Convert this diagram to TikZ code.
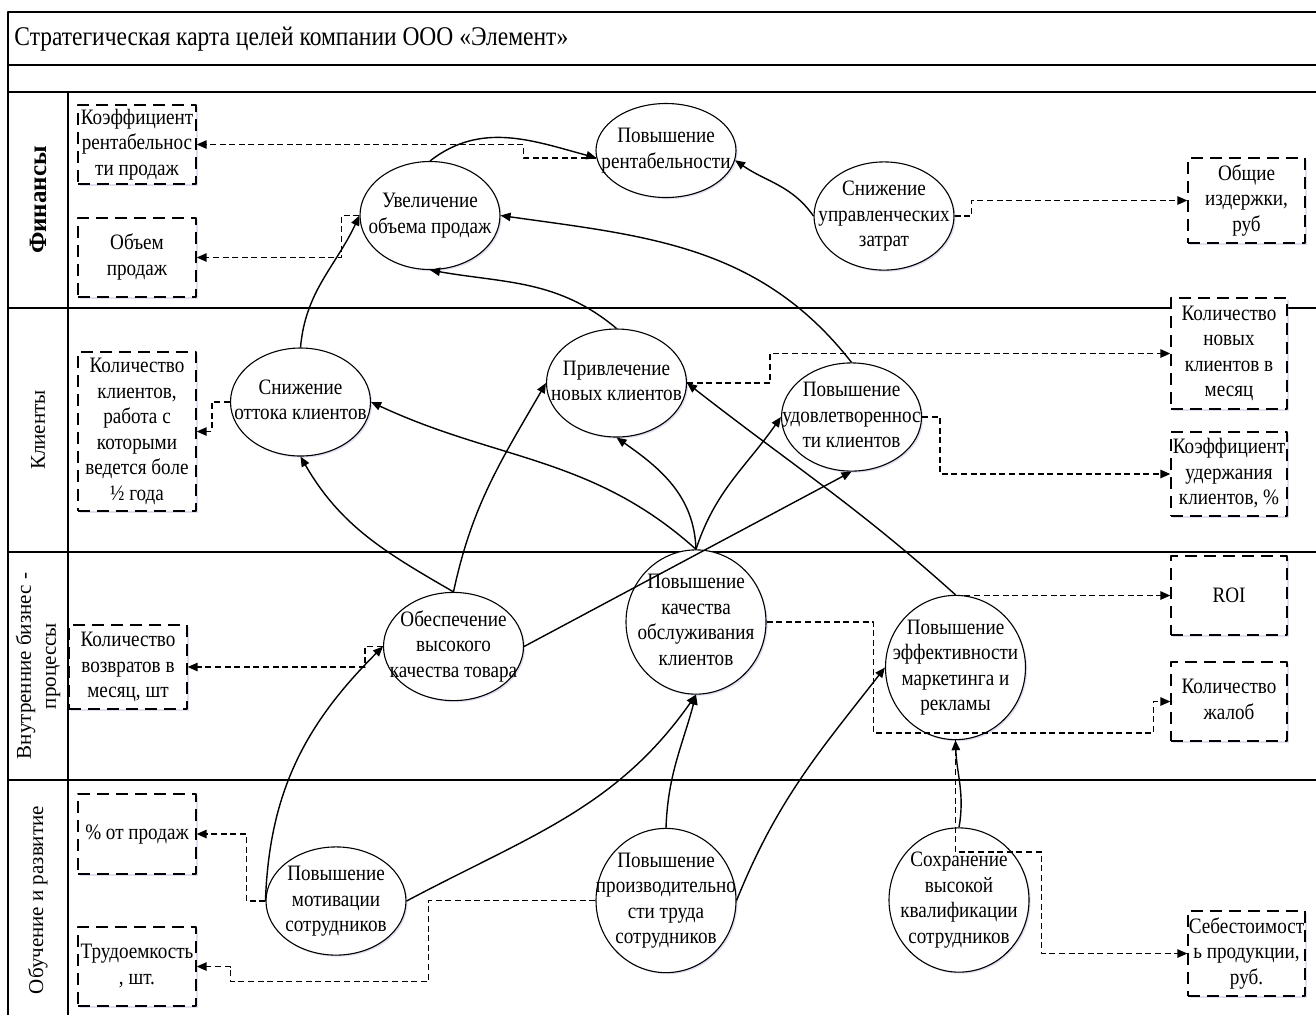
\documentclass[tikz,border=0pt]{standalone}
\usepackage{fontspec}
\setmainfont{Liberation Serif}[FakeStretch=0.87]
\newfontfamily\lanefont{Liberation Serif}
\usetikzlibrary{arrows.meta,shapes.geometric,shadows}
\newcommand{\lines}[1]{\makebox[0pt]{\begin{tabular}{@{}c@{}}#1\end{tabular}}}

\begin{document}
\begin{tikzpicture}[x=0.5pt,y=-0.5pt,>={Triangle[length=5pt,width=4.2pt]},line join=round,
	font=\fontsize{11}{12.75}\selectfont,
	lane/.style={line width=0.8pt},
	sh/.style={drop shadow={shadow xshift=0.8pt,shadow yshift=-0.8pt,opacity=0.3,fill=blue!40!gray!60}},
	goal/.style={ellipse,draw,line width=0.55pt,fill=white,sh,inner sep=0pt,minimum width=70pt,minimum height=54pt},
	kpi/.style={rectangle,draw,line width=0.65pt,dash pattern=on 6pt off 3.5pt,fill=white,sh,inner sep=0pt,minimum width=59pt,minimum height=39.5pt},
	lanelabel/.style={rotate=90,align=center,font=\lanefont\fontsize{10.5}{12.5}\selectfont},
	link/.style={->,line width=0.7pt},
	meas/.style={->,line width=0.75pt,dash pattern=on 3pt off 1.8pt}]
	\useasboundingbox (0,0) rectangle (1316,1014);
	\clip (0,0) rectangle (1316,1014);
	% frame and lanes
	\draw[lane] (8,1030) |- (1330,12);
	\foreach \y in {65,92,308,552,780}
		\draw[lane] (8,\y) -- (1330,\y);
	\draw[lane] (68,92) -- (68,1030);
	\node[anchor=west,inner sep=0pt,font=\fontsize{13.5}{15}\selectfont] (title) at (14,39) {Стратегическая карта целей компании ООО «Элемент»};
	\node[lanelabel,font=\lanefont\bfseries\fontsize{12.5}{14}\selectfont] (l1) at (38,200) {Финансы};
	\node[lanelabel] (l2) at (38,430) {Клиенты};
	\node[lanelabel] (l3) at (38,666) {Внутренние бизнес -\\процессы};
	\node[lanelabel] (l4) at (38,900) {Обучение и развитие};
	% goals
	\node[goal,minimum height=47pt] (e1) at (666,150.5) {\lines{Повышение\\рентабельности}};
	\node[goal] (e2) at (430,215.5) {\lines{Увеличение\\объема продаж}};
	\node[goal] (e3) at (884,216) {\lines{Снижение\\управленческих\\затрат}};
	\node[goal] (e4) at (300.5,402) {\lines{Снижение\\оттока клиентов}};
	\node[goal] (e5) at (616.5,383) {\lines{Привлечение\\новых клиентов}};
	\node[goal] (e6) at (851.5,417) {\lines{Повышение\\удовлетвореннос\\ти клиентов}};
	\node[goal] (e7) at (453.5,646.5) {\lines{Обеспечение\\высокого\\качества товара}};
	\node[goal] (e8) at (696,622) {\lines{Повышение\\качества\\обслуживания\\клиентов}};
	\node[goal] (e9) at (955.5,667.5) {\lines{Повышение\\эффективности\\маркетинга и\\рекламы}};
	\node[goal] (e10) at (336,901) {\lines{Повышение\\мотивации\\сотрудников}};
	\node[goal] (e11) at (666,900.5) {\lines{Повышение\\производительно\\сти труда\\сотрудников}};
	\node[goal] (e12) at (959,900) {\lines{Сохранение\\высокой\\квалификации\\сотрудников}};
	% indicators
	\node[kpi] (b1) at (137,144.5) {\lines{Коэффициент\\рентабельнос\\ти продаж}};
	\node[kpi] (b2) at (137,257.5) {\lines{Объем\\продаж}};
	\node[kpi,minimum height=79.5pt] (b3) at (137,431.5) {\lines{Количество\\клиентов,\\работа с\\которыми\\ведется боле\\½ года}};
	\node[kpi,minimum height=42pt] (b4) at (128,667) {\lines{Количество\\возвратов в\\месяц, шт}};
	\node[kpi,minimum height=40pt] (b5) at (137,834) {\lines{\% от продаж}};
	\node[kpi] (b6) at (137,966.5) {\lines{Трудоемкость\\, шт.}};
	\node[kpi,minimum width=58.5pt,minimum height=42.5pt] (r1) at (1246.5,200.5) {\lines{Общие\\издержки,\\руб}};
	\node[kpi,minimum width=58pt,minimum height=55.5pt] (r2) at (1229,353.5) {\lines{Количество\\новых\\клиентов в\\месяц}};
	\node[kpi,minimum width=58pt,minimum height=42pt] (r3) at (1229,474) {\lines{Коэффициент\\удержания\\клиентов, \%}};
	\node[kpi,minimum width=58pt] (r4) at (1229,595.5) {ROI};
	\node[kpi,minimum width=58pt] (r5) at (1229,701.5) {\lines{Количество\\жалоб}};
	\node[kpi,minimum width=58.5pt,minimum height=42.5pt] (r6) at (1246.5,953.5) {\lines{Себестоимост\\ь продукции,\\руб.}};
	% links between goals
	\draw[link] (e2.north) to[out=38,in=165] (e1.186);
	\draw[link] (e3.west) to[out=125,in=-35] (e1.-8);
	\draw[link] (e5.north) to[out=140,in=-10] (e2.south);
	\draw[link] (e6.north) to[out=128,in=-8] (e2.east);
	\draw[link] (e4.north) to[out=85,in=-115] (e2.west);
	\draw[link] (e7.north) to[out=150,in=-60] (e4.south);
	\draw[link] (e7.north) to[out=78,in=-120] (e5.west);
	\draw[link] (e7.east) -- (e6.south);
	\draw[link] (e8.north) to[out=138,in=-25] (e4.east);
	\draw[link] (e8.north) to[out=92,in=-35] (e5.south);
	\draw[link] (e8.north) to[out=72,in=-125] (e6.west);
	\draw[link] (e9.north) to[out=138,in=-38] (e5.east);
	\draw[link] (e10.west) to[out=88,in=-135] (e7.west);
	\draw[link] (e10.east) to[out=28,in=-125] (e8.south);
	\draw[link] (e11.north) to[out=88,in=-105] (e8.south);
	\draw[link] (e11.east) to[out=68,in=-128] (e9.west);
	\draw[link] (e12.north) to[out=80,in=-88] (e9.south);
	% goals to indicators
	\draw[meas] (e1.186) -- ++(-73,0) |- (b1.east);
	\draw[meas] (e2.west) -- ++(-18,0) |- (b2.east);
	\draw[meas] (e3.east) -- ++(17,0) |- (r1.west);
	\draw[meas] (e4.west) -- ++(-18,0) |- (b3.east);
	\draw[meas] (e5.east) -- ++(83,0) |- (r2.west);
	\draw[meas] (e6.east) -- ++(18,0) |- (r3.west);
	\draw[meas] (e7.west) -- ++(-18,0) |- (b4.east);
	\draw[meas] (e8.east) -- ++(107,0) -- ++(0,111) -- ++(280,0) |- (r5.west);
	\draw[meas] (e9.north) |- (r4.west);
	\draw[meas] (e10.west) -- ++(-19,0) |- (b5.east);
	\draw[meas] (e11.west) -- ++(-167,0) -- ++(0,81) -- ++(-198,0) |- (b6.east);
	\draw[meas] (e9.south) -- ++(0,112) -- ++(86,0) |- (r6.west);
\end{tikzpicture}
\end{document}
